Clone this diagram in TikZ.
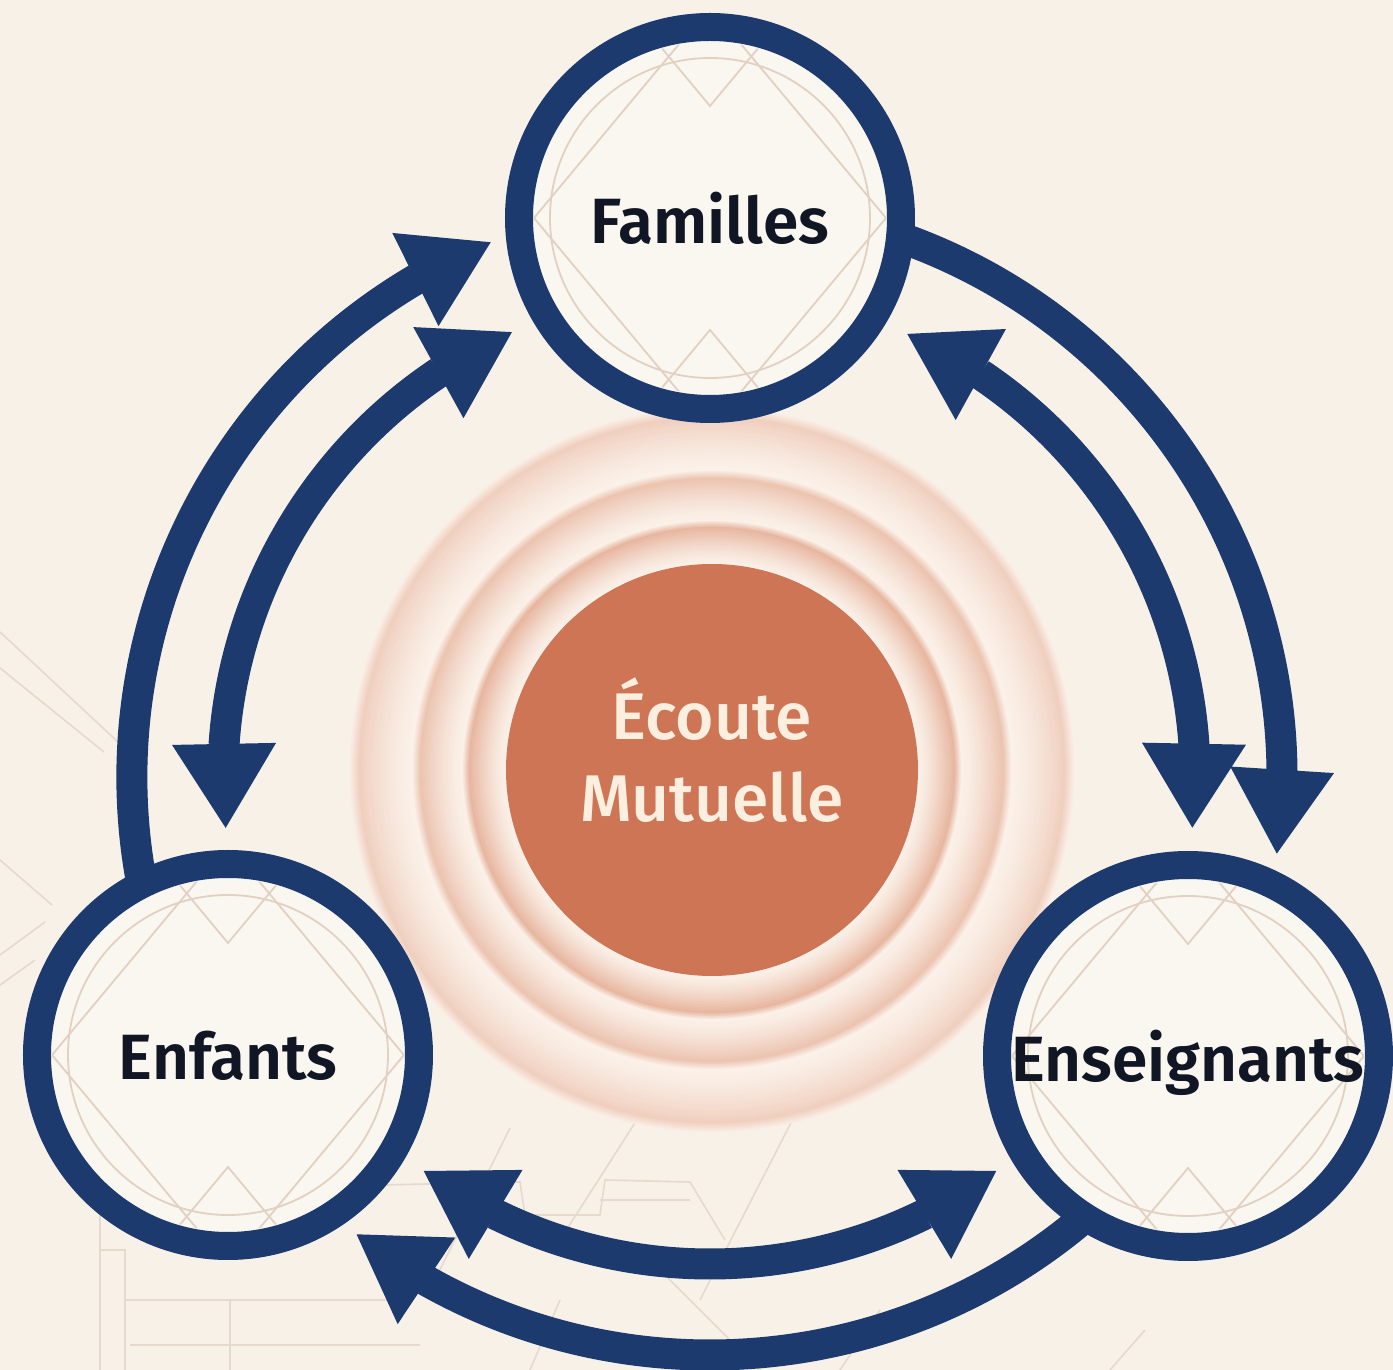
\documentclass[tikz,border=0pt]{standalone}
\usepackage{fontspec}
\setmainfont{Fira Sans}
\IfFontExistsTF{Fira Sans SemiBold}{\newfontfamily\labfont{Fira Sans SemiBold}}{\newcommand\labfont{\bfseries}}
\IfFontExistsTF{Fira Sans Medium}{\newfontfamily\midfont{Fira Sans Medium}}{\newcommand\midfont{\normalfont}}
\usetikzlibrary{arrows.meta,bending}
\definecolor{bg}{RGB}{248,241,232}
\definecolor{nodefill}{RGB}{250,246,240}
\definecolor{navy}{RGB}{28,58,110}
\definecolor{labtext}{RGB}{17,22,36}
\definecolor{diskorange}{RGB}{206,117,85}
\definecolor{creamtxt}{RGB}{252,239,224}
\definecolor{peach}{RGB}{218,142,108}
\definecolor{ringlight}{RGB}{251,241,233}
\definecolor{deco}{RGB}{226,209,193}
\definecolor{sketch}{RGB}{228,218,205}
\begin{document}
\begin{tikzpicture}[x=0.5pt,y=0.5pt]
\tikzset{
  bighead/.tip={Triangle[length=42pt,width=52pt,line width=0pt]},
  flow/.style={draw=navy, line width=15.5pt},
  nodecircle/.style={circle, draw=navy, line width=14pt, fill=nodefill, minimum size=191pt, inner sep=0pt},
  nodelabel/.style={text=labtext, font=\labfont\fontsize{32pt}{38pt}\selectfont, inner sep=0pt, text depth=0pt},
  centertxt/.style={text=creamtxt, font=\midfont\fontsize{33pt}{40pt}\selectfont, inner sep=0pt, anchor=base},
  decoline/.style={draw=deco, line width=0.9pt},
  sketchline/.style={draw=sketch, line width=0.8pt},
  decor/.pic={
    \begin{scope}
      \clip (0,0) circle[radius=176];
      \draw[decoline] (0,0) circle[radius=160];
      \draw[decoline] (-176,0) -- (-10,199);
      \draw[decoline] (176,0) -- (10,199);
      \draw[decoline] (-70,196) -- (0,112) -- (70,196);
      \draw[decoline] (-176,0) -- (-10,-199);
      \draw[decoline] (176,0) -- (10,-199);
      \draw[decoline] (-70,-196) -- (0,-112) -- (70,-196);
    \end{scope}
  }
}
% background and frame
\fill[bg] (-710,-593) rectangle (683,777);
\useasboundingbox (-710,-593) rectangle (683,777);

% faint sketch lines (pixel coordinates)
\begin{scope}[shift={(-710,777)}, yscale=-1]
  \draw[sketchline] (0,632) -- (118,742);
  \draw[sketchline] (0,668) -- (104,752);
  \draw[sketchline] (0,860) -- (52,905);
  \draw[sketchline] (0,955) -- (45,922);
  \draw[sketchline] (0,985) -- (35,960);
  \draw[sketchline] (100,1210) -- (100,1370);
  \draw[sketchline] (100,1250) -- (125,1250) -- (125,1370);
  \draw[sketchline] (125,1300) -- (410,1300);
  \draw[sketchline] (130,1345) -- (420,1345);
  \draw[sketchline] (230,1300) -- (230,1370);
  \draw[sketchline] (380,1185) -- (520,1182) -- (525,1215) -- (600,1215) -- (605,1180) -- (690,1182) -- (725,1240);
  \draw[sketchline] (600,1200) -- (690,1200);
  \draw[sketchline] (510,1128) -- (430,1290);
  \draw[sketchline] (640,1115) -- (560,1240);
  \draw[sketchline] (795,1115) -- (700,1300);
  \draw[sketchline] (560,1300) -- (530,1370);
  \draw[sketchline] (880,1310) -- (840,1370);
  \draw[sketchline] (1145,1330) -- (1110,1370);
  \draw[sketchline] (640,1250) -- (760,1370);
\end{scope}

% concentric rings
\coordinate (D) at (2,7);
\foreach \ro/\ri/\p in {362/299/34,299/249/46,249/205/60}{
  \foreach \i in {0,...,29}{
    \pgfmathsetmacro\rr{\ro-(\ro-\ri)*\i/30}
    \pgfmathtruncatemacro\cc{\i<4 ? \p*(\i+1)/5 : \p*pow((30-\i)/26,1.4)}
    \fill[peach!\cc!ringlight] (D) circle[radius=\rr];
  }
}
\node[circle, fill=diskorange, minimum size=206pt, inner sep=0pt] (disk) at (D) {};
\node[centertxt] (ecoute) at (2,37) {Écoute};
\node[centertxt] (mutuelle) at (2,-45) {Mutuelle};

% connectors: outer arcs
\coordinate (olS) at (200:578);
\draw[flow, -bighead] (olS) arc[start angle=200, end angle=112.3, radius=578];
\coordinate (orS) at (80:572);
\draw[flow, -bighead] (orS) arc[start angle=80, end angle=-7.7, radius=572];
\coordinate (obS) at (320:578);
\draw[flow, -bighead] (obS) arc[start angle=320, end angle=232.3, radius=578];
% inner double arcs
\coordinate (ilS) at (114:487);
\draw[flow, bighead-bighead] (ilS) arc[start angle=114, end angle=186, radius=487];
\coordinate (irS) at (66:485);
\draw[flow, bighead-bighead] (irS) arc[start angle=66, end angle=-6, radius=485];
\coordinate (ibS) at (234:487);
\draw[flow, bighead-bighead] (ibS) arc[start angle=234, end angle=306, radius=487];

% nodes
\node[nodecircle] (fam) at (0,559) {};
\node[nodecircle] (enf) at (-482,-278) {};
\node[nodecircle] (ens) at (478,-279) {};
\pic at (fam.center) {decor};
\pic at (enf.center) {decor};
\pic at (ens.center) {decor};
\node[nodelabel] (famtxt) at (fam.center) {Familles};
\node[nodelabel] (enftxt) at (enf.center) {Enfants};
\node[nodelabel] (enstxt) at (ens.center) {Enseignants};
\end{tikzpicture}
\end{document}
